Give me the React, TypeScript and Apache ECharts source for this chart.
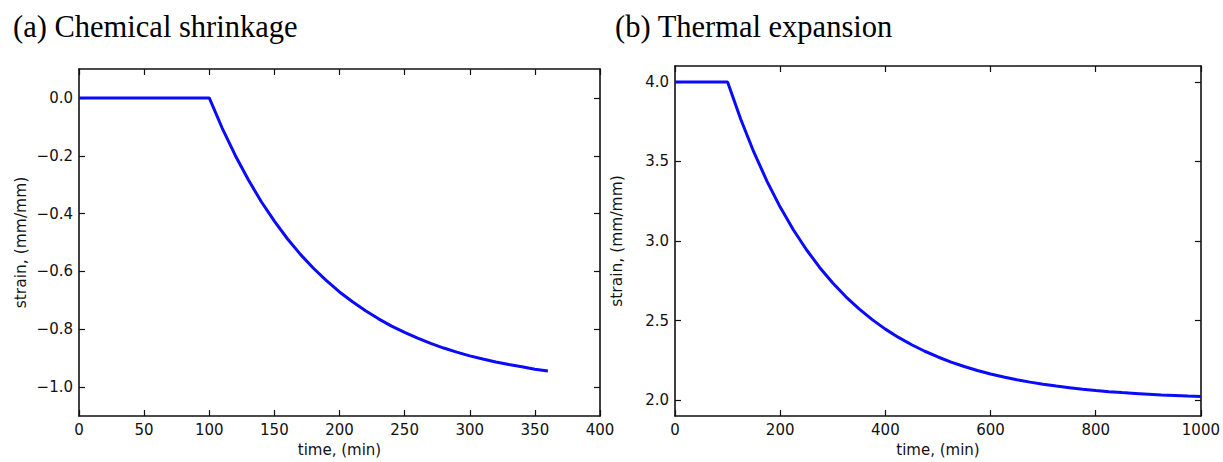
import React, { useEffect, useRef } from "react";
import * as echarts from "echarts";

// (a) Chemical shrinkage
const timeA = [0, 100, 110, 120, 130, 140, 150, 160, 170, 180, 190, 200, 210, 220, 230, 240, 250, 260, 270, 280, 290, 300, 310, 320, 330, 340, 350, 360];
const strainA = [0, 0, -0.105, -0.199, -0.283, -0.359, -0.426, -0.487, -0.541, -0.589, -0.632, -0.671, -0.705, -0.736, -0.764, -0.789, -0.811, -0.831, -0.849, -0.865, -0.879, -0.892, -0.903, -0.913, -0.922, -0.930, -0.938, -0.944];
const xTicksA = [0, 50, 100, 150, 200, 250, 300, 350, 400];
const yTicksA = [-1.0, -0.8, -0.6, -0.4, -0.2, 0.0];

// (b) Thermal expansion
const timeB = [0, 100, 125, 150, 175, 200, 225, 250, 275, 300, 325, 350, 375, 400, 425, 450, 475, 500, 525, 550, 575, 600, 625, 650, 675, 700, 725, 750, 775, 800, 825, 850, 875, 900, 925, 950, 975, 1000];
const strainB = [4.0, 4.0, 3.765, 3.558, 3.375, 3.213, 3.071, 2.945, 2.834, 2.736, 2.649, 2.573, 2.506, 2.446, 2.394, 2.348, 2.307, 2.271, 2.239, 2.211, 2.186, 2.164, 2.145, 2.128, 2.113, 2.1, 2.088, 2.078, 2.068, 2.06, 2.053, 2.047, 2.042, 2.037, 2.032, 2.029, 2.025, 2.022];
const xTicksB = [0, 200, 400, 600, 800, 1000];
const yTicksB = [2.0, 2.5, 3.0, 3.5, 4.0];

const titles = ["(a) Chemical shrinkage", "(b) Thermal expansion"];
const xName = "time, (min)";
const yName = "strain, (mm/mm)";

const fmt = (v: number) => Number(v).toFixed(1).replace("-", "\u2212");

export default function App() {
  const ref = useRef<HTMLDivElement>(null);
  useEffect(() => {
    if (!ref.current) return;
    const chart = echarts.init(ref.current, null, { renderer: "svg" });
    const frame = { show: true, onZero: false, lineStyle: { color: "#111111", width: 1.6 } };
    const tickStyle = { show: true, inside: true, length: 6, lineStyle: { color: "#111111", width: 1.2 } };
    const labelFont = { fontFamily: "DejaVu Sans", fontSize: 15, color: "#111111" };
    const xNameFont = { fontFamily: "DejaVu Sans", fontSize: 15, color: "#111111" };
    const yNameFont = { fontFamily: "DejaVu Sans", fontSize: 15.5, color: "#111111" };

    const mkX = (grid: number, min: number, max: number, ticks: number[], top: boolean) => ({
      type: "value",
      gridIndex: grid,
      position: top ? "top" : "bottom",
      min,
      max,
      splitLine: { show: false },
      axisLine: frame,
      axisTick: { ...tickStyle, customValues: ticks },
      axisLabel: top
        ? { show: false }
        : { show: true, customValues: ticks, margin: 6, ...labelFont, formatter: (v: number) => String(v) },
      name: top ? "" : xName,
      nameLocation: "middle",
      nameGap: 26,
      nameTextStyle: xNameFont,
    });
    const mkY = (grid: number, min: number, max: number, ticks: number[], right: boolean) => ({
      type: "value",
      gridIndex: grid,
      position: right ? "right" : "left",
      min,
      max,
      splitLine: { show: false },
      axisLine: frame,
      axisTick: { ...tickStyle, customValues: ticks },
      axisLabel: right
        ? { show: false }
        : { show: true, customValues: ticks, margin: 6, ...labelFont, formatter: fmt },
      name: right ? "" : yName,
      nameLocation: "middle",
      nameGap: 50,
      nameRotate: 90,
      nameTextStyle: yNameFont,
    });

    chart.setOption({
      animation: false,
      backgroundColor: "#ffffff",
      title: [
        { text: titles[0], left: 8, top: 6, textStyle: { fontFamily: "Liberation Serif", fontSize: 30.5, fontWeight: "normal", color: "#000" } },
        { text: titles[1], left: 610, top: 6, textStyle: { fontFamily: "Liberation Serif", fontSize: 30.5, fontWeight: "normal", color: "#000" } },
      ],
      grid: [
        { left: 79, top: 69, width: 521, height: 349 },
        { left: 675, top: 66, width: 528, height: 352 },
      ],
      xAxis: [
        mkX(0, 0, 400, xTicksA, false),
        mkX(0, 0, 400, xTicksA, true),
        mkX(1, 0, 1000, xTicksB, false),
        mkX(1, 0, 1000, xTicksB, true),
      ],
      yAxis: [
        mkY(0, -1.1, 0.1, yTicksA, false),
        mkY(0, -1.1, 0.1, yTicksA, true),
        mkY(1, 1.9, 4.1, yTicksB, false),
        mkY(1, 1.9, 4.1, yTicksB, true),
      ],
      series: [
        {
          type: "line",
          xAxisIndex: 0,
          yAxisIndex: 0,
          data: timeA.map((t, i) => [t, strainA[i]]),
          showSymbol: false,
          lineStyle: { color: "#0a0aff", width: 3 },
        },
        {
          type: "line",
          xAxisIndex: 2,
          yAxisIndex: 2,
          data: timeB.map((t, i) => [t, strainB[i]]),
          showSymbol: false,
          lineStyle: { color: "#0a0aff", width: 3 },
        },
      ],
    });
    return () => chart.dispose();
  }, []);
  return (
    <div
      ref={ref}
      style={{ position: "absolute", left: 0, top: 0, width: 1223, height: 462 }}
    />
  );
}
